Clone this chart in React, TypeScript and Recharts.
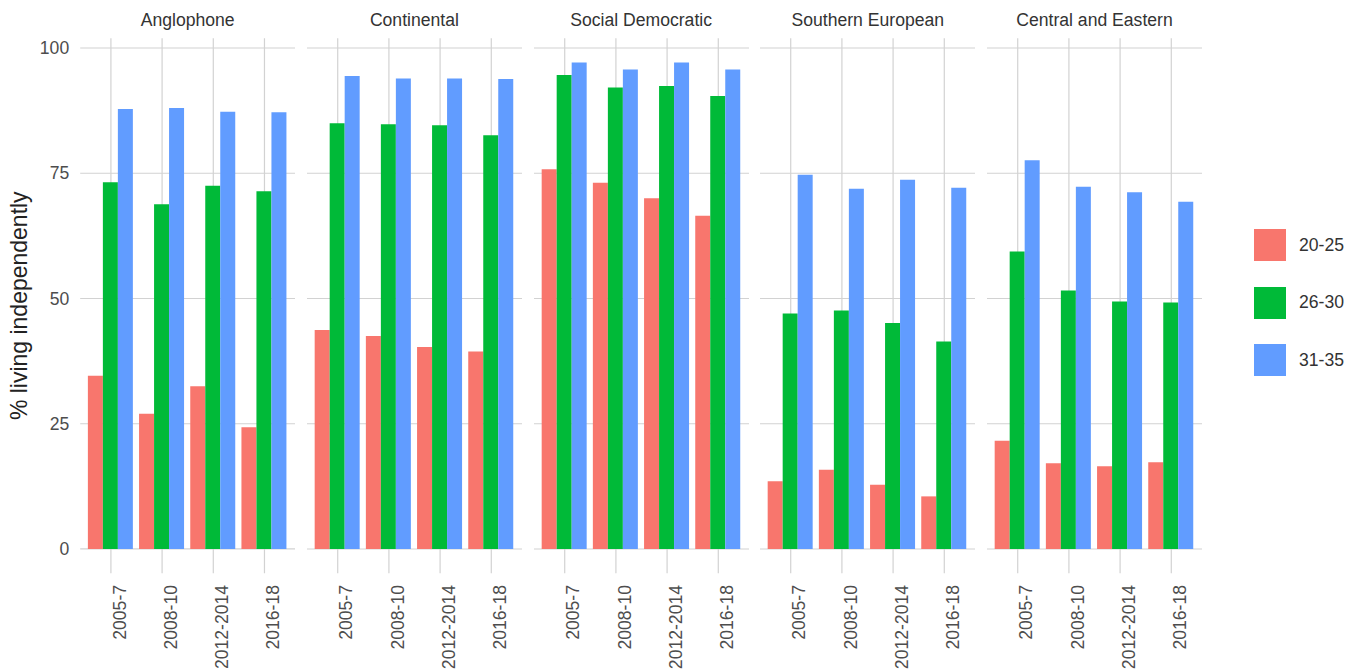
import React from 'react'
import { BarChart, Bar, XAxis, YAxis, CartesianGrid, Label } from 'recharts'

// facets, periods and age groups
const regimes = ['Anglophone', 'Continental', 'Social Democratic', 'Southern European', 'Central and Eastern']
const periods = ['2005-7', '2008-10', '2012-2014', '2016-18']
const ageGroups = ['20-25', '26-30', '31-35']
const ageColors = ['#F8766D', '#00BA38', '#619CFF']

// % living independently, one row per regime, one value per period
const age20to25 = [
  [34.6, 27.0, 32.5, 24.3],
  [43.7, 42.5, 40.3, 39.4],
  [75.8, 73.1, 70.0, 66.5],
  [13.5, 15.8, 12.8, 10.5],
  [21.6, 17.1, 16.5, 17.3],
]
const age26to30 = [
  [73.2, 68.8, 72.5, 71.4],
  [85.0, 84.8, 84.6, 82.6],
  [94.6, 92.1, 92.4, 90.4],
  [47.0, 47.6, 45.1, 41.4],
  [59.4, 51.6, 49.4, 49.2],
]
const age31to35 = [
  [87.8, 88.0, 87.3, 87.2],
  [94.4, 93.9, 93.9, 93.8],
  [97.1, 95.7, 97.1, 95.7],
  [74.7, 71.9, 73.7, 72.1],
  [77.6, 72.3, 71.2, 69.3],
]
const yTicks = [0, 25, 50, 75, 100]

const series = [age20to25, age26to30, age31to35]
const keys = ['a', 'b', 'c']

// ggplot-like 5% expansion of the data range
const maxVal = Math.max(...series.flat(2))
const yDomain = [-0.05 * maxVal, maxVal * 1.05]

const FONT = '"Liberation Sans", Arial, Helvetica, sans-serif'
const PANEL_W = 215
const PANEL_STEP = 226.7
const FIRST_LEFT = 80.2
const TOP = 38.2
const X_AXIS_H = 97.7
const H = 671

const PeriodTick = (props: any) => {
  const { x, y, payload } = props
  return (
    <text
      transform={`translate(${x + 14.7},${y + 11.7}) rotate(-90)`}
      textAnchor="end"
      fontSize={17.6}
      fill="#4d4d4d"
      fontFamily={FONT}
    >
      {payload.value}
    </text>
  )
}

function Facet({ idx }: { idx: number }) {
  const rows = periods.map((p, i) => ({
    period: p,
    a: age20to25[idx][i],
    b: age26to30[idx][i],
    c: age31to35[idx][i],
  }))
  const first = idx === 0
  const left = first ? 0 : FIRST_LEFT + idx * PANEL_STEP
  const width = first ? FIRST_LEFT + PANEL_W : PANEL_W
  return (
    <div style={{ position: 'absolute', left, top: 0 }}>
      <BarChart
        width={width}
        height={H}
        data={rows}
        margin={{ top: TOP, right: 0, bottom: 0, left: 0 }}
        barCategoryGap="5%"
        barGap={0}
      >
        {/* only lines at the breaks, no frame */}
        <CartesianGrid stroke="#d2d2d2" strokeWidth={1.2} syncWithTicks />
        <XAxis
          dataKey="period"
          interval={0}
          height={X_AXIS_H}
          padding={{ left: 5.12, right: 5.12 }}
          tickLine={false}
          axisLine={false}
          tickSize={0}
          tickMargin={0}
          tick={<PeriodTick />}
        />
        <YAxis
          hide={!first}
          width={first ? FIRST_LEFT : 0}
          type="number"
          domain={yDomain}
          ticks={yTicks}
          allowDataOverflow
          tickLine={false}
          axisLine={false}
          tickSize={0}
          tickMargin={11}
          tick={{ fontSize: 17.6, fill: '#4d4d4d', fontFamily: FONT }}
        >
          {first && (
            <Label
              content={(p: any) => {
                const vb = p.viewBox || {}
                const cy = (vb.y || TOP) + (vb.height || 535) / 2
                return (
                  <text
                    transform={`translate(27,${cy}) rotate(-90)`}
                    textAnchor="middle"
                    fontSize={23}
                    fill="#222"
                    fontFamily={FONT}
                  >
                    % living independently
                  </text>
                )
              }}
            />
          )}
        </YAxis>
        {keys.map((k, i) => (
          <Bar key={k} dataKey={k} name={ageGroups[i]} fill={ageColors[i]} isAnimationActive={false} />
        ))}
      </BarChart>
    </div>
  )
}

export default function App() {
  return (
    <div
      style={{
        position: 'absolute',
        left: 0,
        top: 0,
        width: 1362,
        height: H,
        background: '#fff',
        fontFamily: FONT,
      }}
    >
      {regimes.map((r, i) => (
        <Facet key={r} idx={i} />
      ))}
      {regimes.map((r, i) => (
        <div
          key={'t' + r}
          style={{
            position: 'absolute',
            left: FIRST_LEFT + i * PANEL_STEP,
            width: PANEL_W,
            top: 10.4,
            lineHeight: '20px',
            fontSize: 17.6,
            color: '#333',
            textAlign: 'center',
          }}
        >
          {r}
        </div>
      ))}
      {ageGroups.map((g, i) => (
        <div
          key={g}
          style={{
            position: 'absolute',
            left: 1254,
            top: 229 + i * 57.5,
            height: 32,
            display: 'flex',
            alignItems: 'center',
          }}
        >
          <div style={{ width: 32, height: 32, background: ageColors[i] }} />
          <span style={{ marginLeft: 13, fontSize: 17.6, color: '#333' }}>{g}</span>
        </div>
      ))}
    </div>
  )
}
